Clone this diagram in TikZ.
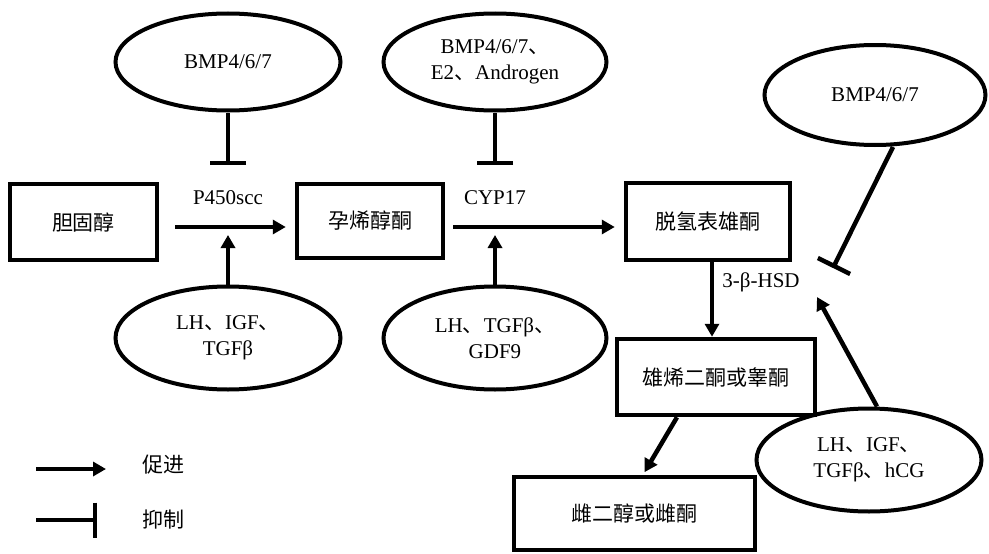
\documentclass[tikz,border=0pt]{standalone}
\usepackage{fontspec}
\setmainfont{Liberation Serif}
\newfontfamily\cjk{Noto Sans CJK SC}
\usetikzlibrary{arrows.meta,shapes.geometric}
\newcommand{\dn}{{\cjk 、}}
\begin{document}
\begin{tikzpicture}[x=1pt,y=-1pt,
  font=\fontsize{21}{26}\selectfont,
  box/.style={draw,line width=4.5pt,inner sep=0pt},
  oval/.style={draw,ellipse,line width=4pt,inner sep=0pt,align=center},
  prom/.style={line width=4.5pt,-{Triangle[length=13pt,width=14pt]}},
  inhib/.style={line width=4.5pt,-{Bar[width=36pt]}},
  lbl/.style={inner sep=1pt}]
\useasboundingbox[fill=white] (0,0) rectangle (989,554);

% boxes
\node[box,minimum width=147pt,minimum height=76pt] (chol) at (83.5,222) {\cjk 胆固醇};
\node[box,minimum width=146pt,minimum height=74pt] (preg) at (370,221) {\cjk 孕烯醇酮};
\node[box,minimum width=164pt,minimum height=77pt] (dhea) at (708,221.5) {\cjk 脱氢表雄酮};
\node[box,minimum width=198pt,minimum height=76pt] (andr) at (716,377) {\cjk 雄烯二酮或睾酮};
\node[box,minimum width=241pt,minimum height=73pt] (estr) at (634.5,513.5) {\cjk 雌二醇或雌酮};

% ellipses
\node[oval,minimum width=225pt,minimum height=97pt] (e1) at (228,62) {BMP4/6/7};
\node[oval,minimum width=223pt,minimum height=97pt] (e2) at (495,62) {BMP4/6/7\dn\\E2\dn Androgen};
\node[oval,minimum width=221pt,minimum height=100pt] (e3) at (875,95) {BMP4/6/7};
\node[oval,minimum width=225pt,minimum height=103pt] (e4) at (228,338) {LH\dn IGF\dn\\TGFβ};
\node[oval,minimum width=223pt,minimum height=103pt] (e5) at (495,338) {LH\dn TGFβ\dn\\GDF9};
\node[oval,minimum width=225pt,minimum height=103pt] (e6) at (869,460) {LH\dn IGF\dn\\TGFβ\dn hCG};

% enzyme labels
\node[lbl] (p450) at (228,198) {P450scc};
\node[lbl] (cyp) at (495,198) {CYP17};
\node[lbl] (hsd) at (761,282) {3-β-HSD};

% target points
\coordinate (a1) at (228,235);
\coordinate (a2) at (495,235);
\coordinate (a3) at (817,297);
\coordinate (b1) at (228,165);
\coordinate (b2) at (495,165);
\coordinate (b3) at (833,268);

% main pathway
\draw[prom,shorten <=16pt,shorten >=9pt] (chol.east |- 0,227) -- (preg.west |- 0,227);
\draw[prom,shorten <=8pt,shorten >=9pt] (preg.east |- 0,227) -- (dhea.west |- 0,227);
\draw[prom] (712,0 |- dhea.south) -- (712,0 |- andr.north);
\draw[prom,shorten >=3pt] (677,0 |- andr.south) -- (643,0 |- estr.north);

% regulators
\draw[inhib] (e1) -- (b1);
\draw[inhib] (e2) -- (b2);
\draw[inhib] (893,0 |- e3.south) -- (b3);
\draw[prom] (e4) -- (a1);
\draw[prom] (e5) -- (a2);
\draw[prom] (877,0 |- e6.north) -- (a3);

% legend
\coordinate (l1s) at (36,469);
\coordinate (l1e) at (106,469);
\coordinate (l2s) at (36,520);
\coordinate (l2e) at (97,520);
\draw[prom] (l1s) -- (l1e);
\draw[line width=4.5pt,-{Bar[width=35pt]}] (l2s) -- (l2e);
\node[lbl] (tp) at (163,465) {\cjk 促进};
\node[lbl] (ti) at (163,520) {\cjk 抑制};
\end{tikzpicture}
\end{document}
